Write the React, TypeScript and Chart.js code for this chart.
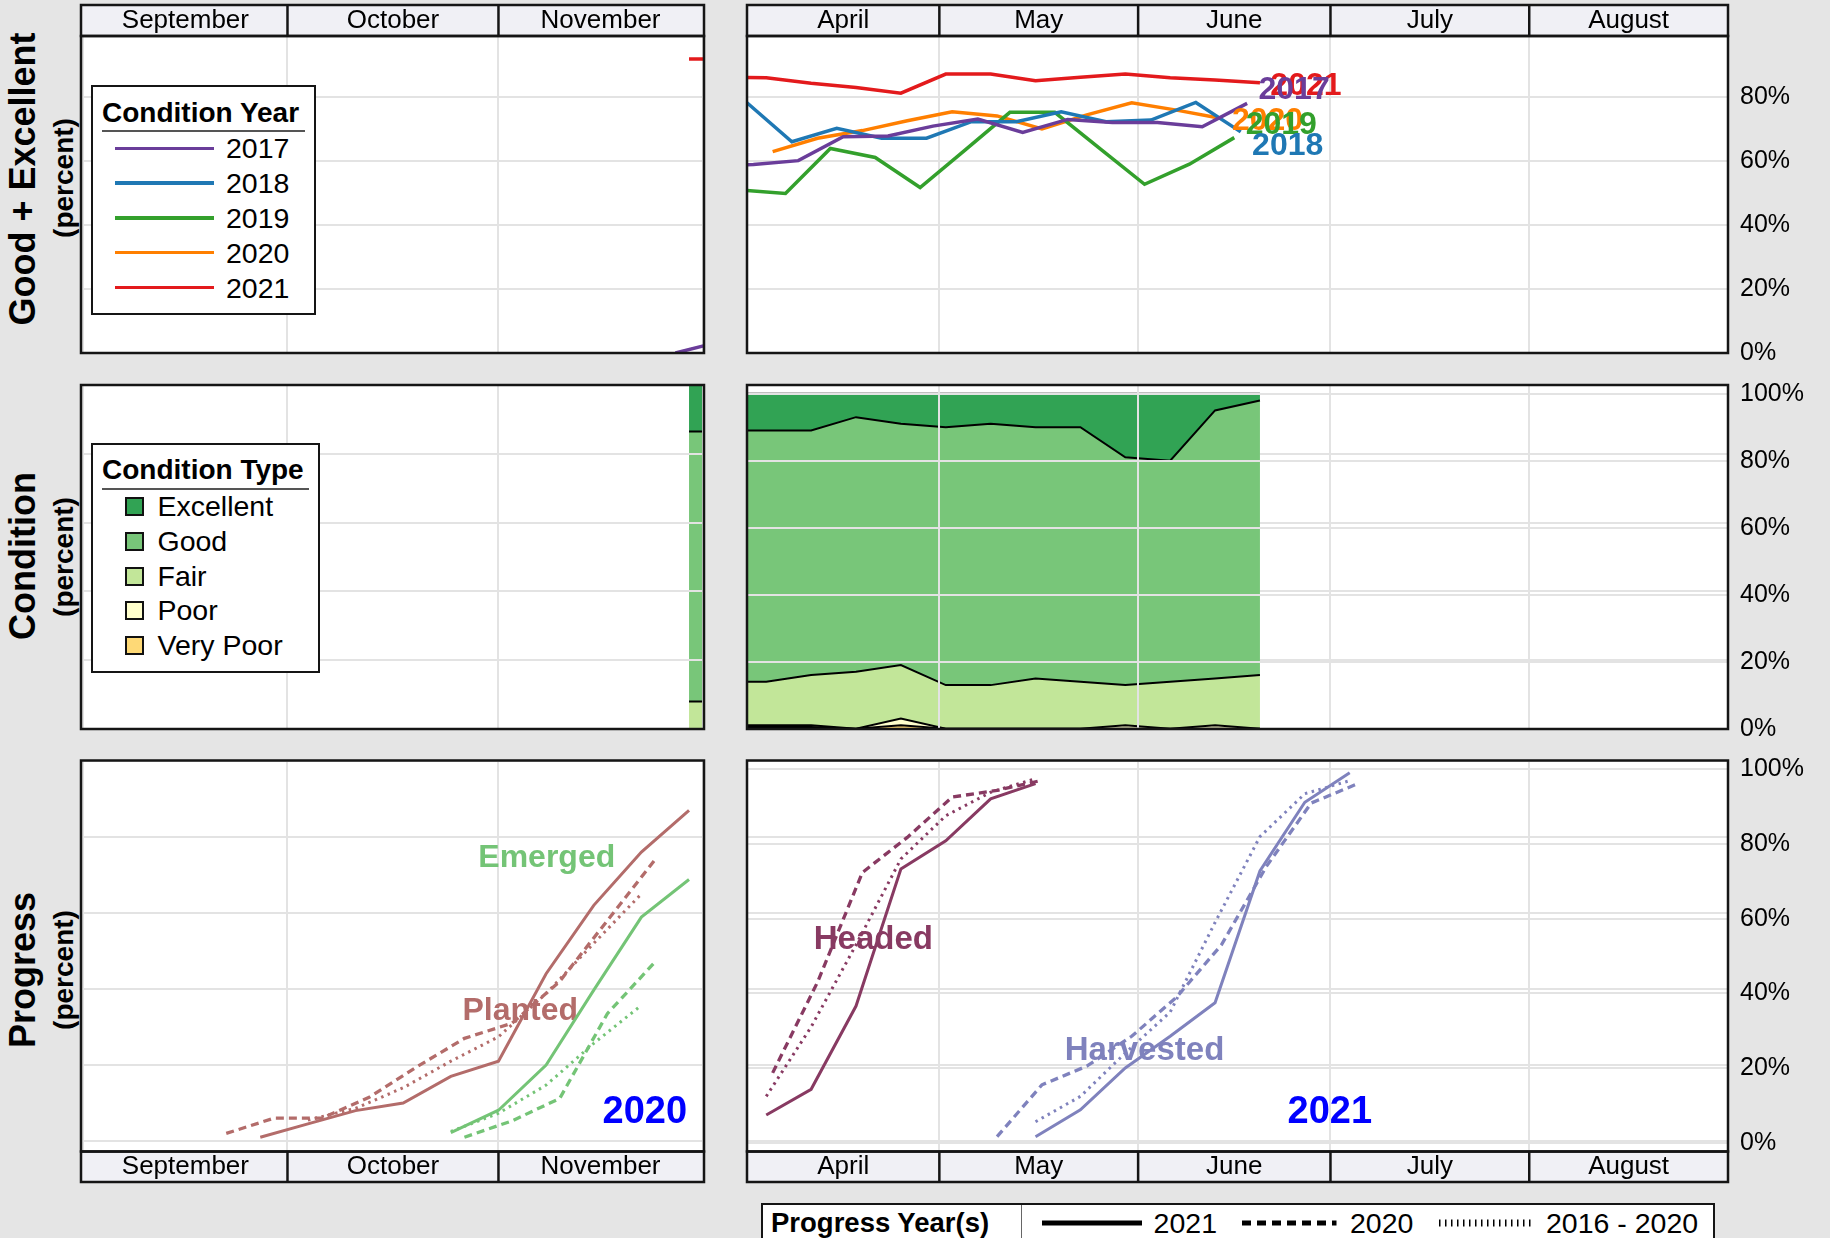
import React, { useEffect, useRef } from 'react';
import { Chart, registerables } from 'chart.js';

Chart.register(...registerables);

const FONT = '"Liberation Sans", Arial, Helvetica, sans-serif';

// ---------------- month strips ----------------
const fallMonthNames = ['September', 'October', 'November'];
const fallMonthStartDates = ['2020-09-01', '2020-10-01', '2020-11-01', '2020-12-01'];
const springMonthNames = ['April', 'May', 'June', 'July', 'August'];
const springMonthStartDates = ['2021-04-01', '2021-05-01', '2021-06-01', '2021-07-01', '2021-08-01', '2021-09-01'];

// ---------------- y tick labels ----------------
const geTicks = [0, 20, 40, 60, 80];
const pctTicks = [0, 20, 40, 60, 80, 100];

// ---------------- Good + Excellent by condition year ----------------
const conditionYears = ['2017', '2018', '2019', '2020', '2021'];

const ge2017FallDates = ['2016-11-27', '2016-12-04'];
const ge2017FallValues = [0, 3.8];
const ge2021FallDates = ['2020-11-29', '2020-12-06'];
const ge2021FallValues = [92, 92];

const ge2017Dates = ['2017-03-26', '2017-04-02', '2017-04-09', '2017-04-16', '2017-04-23', '2017-04-30', '2017-05-07', '2017-05-14', '2017-05-21', '2017-05-28', '2017-06-04', '2017-06-11', '2017-06-18'];
const ge2017Values = [58.5, 59, 60.2, 67.7, 67.9, 71, 73.2, 69, 73.1, 72.1, 72.1, 70.8, 78.1];
const ge2018Dates = ['2018-04-01', '2018-04-08', '2018-04-15', '2018-04-22', '2018-04-29', '2018-05-06', '2018-05-13', '2018-05-20', '2018-05-27', '2018-06-03', '2018-06-10', '2018-06-17'];
const ge2018Values = [78.3, 66.1, 70.3, 67.2, 67.2, 72.4, 72.4, 75.5, 72.4, 72.9, 78.4, 69.2];
const ge2019Dates = ['2019-03-31', '2019-04-07', '2019-04-14', '2019-04-21', '2019-04-28', '2019-05-05', '2019-05-12', '2019-05-19', '2019-05-26', '2019-06-02', '2019-06-09', '2019-06-16'];
const ge2019Values = [51, 49.9, 64, 61.2, 51.8, 63.5, 75.3, 75.3, 64, 52.8, 59.1, 67.4];
const ge2020Dates = ['2020-04-05', '2020-04-12', '2020-04-19', '2020-04-26', '2020-05-03', '2020-05-10', '2020-05-17', '2020-05-24', '2020-05-31', '2020-06-07', '2020-06-14'];
const ge2020Values = [63, 67.2, 69.6, 72.7, 75.5, 74.2, 70.1, 74.5, 78.3, 76, 73.4];
const ge2021Dates = ['2021-03-28', '2021-04-04', '2021-04-11', '2021-04-18', '2021-04-25', '2021-05-02', '2021-05-09', '2021-05-16', '2021-05-23', '2021-05-30', '2021-06-06', '2021-06-13', '2021-06-20'];
const ge2021Values = [86.3, 86.1, 84.4, 83.1, 81.3, 87.3, 87.3, 85.2, 86.3, 87.3, 86.1, 85.4, 84.6];

// ---------------- Condition (percent) ----------------
const conditionTypes = ['Excellent', 'Good', 'Fair', 'Poor', 'Very Poor'];
const condFallDates = ['2020-11-29', '2020-12-06'];
const condFallExcellent = [13.5, 13.5];
const condFallGood = [78.5, 78.5];
const condFallFair = [8, 8];
const condFallPoor = [0, 0];
const condFallVeryPoor = [0, 0];

const condDates = ['2021-03-28', '2021-04-04', '2021-04-11', '2021-04-18', '2021-04-25', '2021-05-02', '2021-05-09', '2021-05-16', '2021-05-23', '2021-05-30', '2021-06-06', '2021-06-13', '2021-06-20'];
const condExcellent = [11, 11, 11, 7, 9, 10, 9, 10, 10, 19, 20, 5, 2];
const condGood = [75, 75, 73, 76, 72, 77, 78, 75, 76, 68, 66, 80, 82];
const condFair = [13, 13, 15, 17, 16, 13, 13, 15, 14, 12, 14, 14, 16];
const condPoor = [0.5, 0.5, 0.5, 0, 2, 0, 0, 0, 0, 1, 0, 1, 0];
const condVeryPoor = [0.5, 0.5, 0.5, 0, 1, 0, 0, 0, 0, 0, 0, 0, 0];

// ---------------- Progress (percent) ----------------
const progressYears = ['2021', '2020', '2016 - 2020'];

const plantedDates2020 = ['2020-09-27', '2020-10-04', '2020-10-11', '2020-10-18', '2020-10-25', '2020-11-01', '2020-11-08', '2020-11-15', '2020-11-22', '2020-11-29'];
const plantedValues2020 = [1, 4.5, 8, 10, 17, 21, 44, 62, 76, 87];
const plantedDates2019 = ['2019-09-22', '2019-09-29', '2019-10-06', '2019-10-13', '2019-10-20', '2019-10-27', '2019-11-03', '2019-11-10', '2019-11-17', '2019-11-24'];
const plantedValues2019 = [2, 6, 6, 11.5, 19.5, 27, 31, 42, 58, 74];
const plantedAvgDates = ['2020-10-04', '2020-10-11', '2020-10-18', '2020-10-25', '2020-11-01', '2020-11-08', '2020-11-15', '2020-11-22'];
const plantedAvgValues = [5.5, 8.6, 14, 21, 27.4, 38.8, 52, 65];

const emergedDates2020 = ['2020-10-25', '2020-11-01', '2020-11-08', '2020-11-15', '2020-11-22', '2020-11-29'];
const emergedValues2020 = [2.2, 8.1, 20, 39.7, 58.9, 68.8];
const emergedDates2019 = ['2019-10-27', '2019-11-03', '2019-11-10', '2019-11-17', '2019-11-24'];
const emergedValues2019 = [1, 5.3, 11.2, 33.5, 47.1];
const emergedAvgDates = ['2020-10-25', '2020-11-01', '2020-11-08', '2020-11-15', '2020-11-22'];
const emergedAvgValues = [2.5, 7.3, 14.7, 25.7, 35.7];

const headedDates2021 = ['2021-04-04', '2021-04-11', '2021-04-18', '2021-04-25', '2021-05-02', '2021-05-09', '2021-05-16'];
const headedValues2021 = [7.4, 14.3, 36.6, 73.3, 80.9, 92.1, 96.2];
const headedDates2020 = ['2020-04-05', '2020-04-12', '2020-04-19', '2020-04-26', '2020-05-03', '2020-05-10', '2020-05-17'];
const headedValues2020 = [18.7, 43, 72.4, 81.8, 92.6, 94.4, 97.1];
const headedAvgDates = ['2021-04-04', '2021-04-11', '2021-04-18', '2021-04-25', '2021-05-02', '2021-05-09', '2021-05-16'];
const headedAvgValues = [12.4, 31, 53, 76, 87.6, 93.9, 97.5];

const harvestedDates2021 = ['2021-05-16', '2021-05-23', '2021-05-30', '2021-06-06', '2021-06-13', '2021-06-20', '2021-06-27', '2021-07-04'];
const harvestedValues2021 = [1.6, 8.8, 20, 28.5, 37.5, 72.8, 91.2, 99.1];
const harvestedDates2020 = ['2020-05-10', '2020-05-17', '2020-05-24', '2020-05-31', '2020-06-07', '2020-06-14', '2020-06-21', '2020-06-28', '2020-07-05'];
const harvestedValues2020 = [1.6, 15.5, 20.5, 28.5, 39, 53, 74, 91, 96];
const harvestedAvgDates = ['2021-05-16', '2021-05-23', '2021-05-30', '2021-06-06', '2021-06-13', '2021-06-20', '2021-06-27', '2021-07-04'];
const harvestedAvgValues = [5.6, 12.4, 24, 35, 59, 82, 93.5, 97];

// ---------------- styles ----------------
const yearColors: Record<string, string> = { '2017': '#6a3d9a', '2018': '#1f78b4', '2019': '#33a02c', '2020': '#ff7f00', '2021': '#e31a1c' };
const condColors: Record<string, string> = { Excellent: '#31a354', Good: '#78c679', Fair: '#c2e699', Poor: '#ffffcc', 'Very Poor': '#fed976' };
const PLANTED = '#b36c6a';
const EMERGED = '#74c476';
const HEADED = '#883a62';
const HARVESTED = '#7f82bd';
const BG = '#e5e5e5';
const GRID = '#e3e3e3';
const STRIP_BG = '#f0f0f5';
const EDGE = '#151515';

// label placement (style only) relative to a series' last point, in px
const yearLabelStyle: Record<string, { dx: number; dy: number }> = {
  '2021': { dx: 46, dy: 3.5 },
  '2017': { dx: 47, dy: -13.5 },
  '2020': { dx: 46, dy: 2.5 },
  '2019': { dx: 47, dy: -12.5 },
  '2018': { dx: 47, dy: 14.5 },
};
const yearLabelOrder = ['2021', '2017', '2020', '2019', '2018'];

// annotation placement (style only), in axis units (days, percent)
const fallAnnotations = [
  { text: 'Emerged', x: 68.1, y: 74.4, color: EMERGED, size: 32 },
  { text: 'Planted', x: 64.2, y: 34.1, color: PLANTED, size: 32 },
  { text: '2020', x: 82.5, y: 7.5, color: '#0000ff', size: 38 },
];
const springAnnotations = [
  { text: 'Headed', x: 19.7, y: 54.2, color: HEADED, size: 33 },
  { text: 'Harvested', x: 62.0, y: 24.6, color: HARVESTED, size: 33 },
  { text: '2021', x: 90.9, y: 8.0, color: '#0000ff', size: 38 },
];

// ---------------- helpers ----------------
const DAY = 86400000;
const ymd = (s: string) => s.split('-').map(Number);
const fallDay = (s: string) => {
  const [y, m, d] = ymd(s);
  return (Date.UTC(y, m - 1, d) - Date.UTC(y, 8, 1)) / DAY;
};
const springDay = (s: string) => {
  const [y, m, d] = ymd(s);
  return (Date.UTC(y, m - 1, d) - Date.UTC(y, 3, 1)) / DAY;
};
const pts = (dates: string[], values: number[], f: (s: string) => number) =>
  dates.map((d, i) => ({ x: f(d), y: values[i] }));

const SOLID: number[] = [];
const DASHED = [8, 5];
const DOTTED = [2.5, 4.5];

const lineDs = (data: any[], color: string, width: number, dash: number[] = SOLID) => ({
  data,
  borderColor: color,
  backgroundColor: color,
  borderWidth: width,
  borderDash: dash,
  pointRadius: 0,
  pointHoverRadius: 0,
  fill: false,
  tension: 0,
  clip: 0,
  borderCapStyle: 'butt',
});

const areaDs = (data: any[], color: string, first: boolean) => ({
  data,
  borderColor: '#000',
  backgroundColor: color,
  borderWidth: 2,
  pointRadius: 0,
  pointHoverRadius: 0,
  fill: first ? 'origin' : '-1',
  tension: 0,
  clip: 0,
});

const conditionStack = (
  dates: string[],
  f: (s: string) => number,
  vp: number[], poor: number[], fair: number[], good: number[], exc: number[]
) => [
  areaDs(pts(dates, vp, f), condColors['Very Poor'], true),
  areaDs(pts(dates, poor, f), condColors.Poor, false),
  areaDs(pts(dates, fair, f), condColors.Fair, false),
  areaDs(pts(dates, good, f), condColors.Good, false),
  areaDs(pts(dates, exc, f), condColors.Excellent, false),
];

// ---------------- geometry ----------------
const SIDES: any = {
  fall: {
    left: 76, width: 634, padL: 5, padR: 6, yPos: 'left', yWidth: 0, showY: false,
    xRange: [-0.34, 91.2], names: fallMonthNames, starts: fallMonthStartDates.map(fallDay),
  },
  spring: {
    left: 742, width: 1088, padL: 5, padR: 0, yPos: 'right', yWidth: 102, showY: true,
    xRange: [0, 153], names: springMonthNames, starts: springMonthStartDates.map(springDay),
  },
};
const ROWS: any = {
  top: { top: 0, height: 370, padT: 5, padB: 17, strip: 'top', stripH: 31 },
  mid: { top: 370, height: 375, padT: 15, padB: 16, strip: null, stripH: 0 },
  bottom: { top: 745, height: 450, padT: 15.5, padB: 13, strip: 'bottom', stripH: 30.5 },
};

const zeroPad = (sc: any) => {
  sc.paddingTop = 0; sc.paddingBottom = 0; sc.paddingLeft = 0; sc.paddingRight = 0;
};

const panelDeco = (starts: number[]) => ({
  id: 'panelDeco',
  beforeDraw(chart: any) {
    const { ctx, chartArea: a } = chart;
    ctx.save();
    ctx.fillStyle = '#ffffff';
    ctx.fillRect(a.left, a.top, a.right - a.left, a.bottom - a.top);
    const m = chart.scales.xm;
    if (m) {
      ctx.fillStyle = STRIP_BG;
      ctx.fillRect(a.left, m.top, a.right - a.left, m.bottom - m.top);
    }
    ctx.restore();
  },
  afterDraw(chart: any) {
    const { ctx, chartArea: a } = chart;
    ctx.save();
    ctx.strokeStyle = EDGE;
    ctx.lineWidth = 2.5;
    ctx.strokeRect(a.left, a.top, a.right - a.left, a.bottom - a.top);
    const m = chart.scales.xm;
    if (m) {
      ctx.strokeRect(a.left, m.top, a.right - a.left, m.bottom - m.top);
      const xs = chart.scales.x;
      starts.slice(1, -1).forEach((v) => {
        const px = xs.getPixelForValue(v);
        ctx.beginPath();
        ctx.moveTo(px, m.top);
        ctx.lineTo(px, m.bottom);
        ctx.stroke();
      });
    }
    ctx.restore();
  },
});

const annotationPlugin = (items: any[]) => ({
  id: 'annotations',
  beforeDatasetsDraw(chart: any) {
    const { ctx } = chart;
    const xs = chart.scales.x;
    const ys = chart.scales.y;
    ctx.save();
    ctx.textAlign = 'center';
    ctx.textBaseline = 'middle';
    items.forEach((it) => {
      ctx.font = `bold ${it.size}px ${FONT}`;
      ctx.fillStyle = it.color;
      ctx.fillText(it.text, xs.getPixelForValue(it.x), ys.getPixelForValue(it.y));
    });
    ctx.restore();
  },
});

const yearLabelPlugin = {
  id: 'yearLabels',
  afterDatasetsDraw(chart: any) {
    const { ctx } = chart;
    ctx.save();
    ctx.textAlign = 'center';
    ctx.textBaseline = 'middle';
    ctx.font = `bold 32px ${FONT}`;
    yearLabelOrder.forEach((yr) => {
      const idx = conditionYears.indexOf(yr);
      const meta = chart.getDatasetMeta(idx);
      const last = meta.data[meta.data.length - 1];
      if (!last) return;
      const st = yearLabelStyle[yr];
      ctx.fillStyle = yearColors[yr];
      ctx.fillText(yr, last.x + st.dx, last.y + st.dy);
    });
    ctx.restore();
  },
};

type PanelOpts = {
  side: 'fall' | 'spring';
  row: 'top' | 'mid' | 'bottom';
  datasets: any[];
  yRange: [number, number];
  yTicks: number[];
  echo?: [number, number];
  gridOnTop?: boolean;
  stacked?: boolean;
  plugins?: any[];
};

function buildPanel(o: PanelOpts) {
  const s = SIDES[o.side];
  const r = ROWS[o.row];
  const gz = o.gridOnTop ? 1 : 0;
  const scales: any = {
    x: {
      type: 'linear', position: 'bottom', min: s.xRange[0], max: s.xRange[1],
      grid: { color: GRID, lineWidth: 2, drawTicks: false, z: gz },
      border: { display: false },
      ticks: { display: false },
      afterBuildTicks: (sc: any) => { sc.ticks = s.starts.map((v: number) => ({ value: v })); },
      afterFit: (sc: any) => { sc.height = 0; zeroPad(sc); },
    },
    y: {
      type: 'linear', position: s.yPos, min: o.yRange[0], max: o.yRange[1], stacked: !!o.stacked,
      grid: { color: GRID, lineWidth: 2, drawTicks: false, z: gz },
      border: { display: false },
      ticks: {
        display: s.showY, padding: 12, color: '#000',
        font: { family: FONT, size: 25 },
        callback: (v: any) => `${v}%`,
      },
      afterBuildTicks: (sc: any) => { sc.ticks = o.yTicks.map((v) => ({ value: v })); },
      afterFit: (sc: any) => { sc.width = s.yWidth; zeroPad(sc); },
    },
  };
  if (o.echo) {
    scales.yg = {
      type: 'linear', axis: 'y', position: 'left', min: o.echo[0], max: o.echo[1],
      grid: { color: GRID, lineWidth: 2, drawTicks: false, z: 0 },
      border: { display: false },
      ticks: { display: false },
      afterBuildTicks: (sc: any) => { sc.ticks = pctTicks.map((v) => ({ value: v })); },
      afterFit: (sc: any) => { sc.width = 0; zeroPad(sc); },
    };
  }
  if (r.strip) {
    const mids = s.names.map((_: string, i: number) => (s.starts[i] + s.starts[i + 1]) / 2);
    scales.xm = {
      type: 'linear', axis: 'x', position: r.strip, min: s.xRange[0], max: s.xRange[1],
      grid: { display: false, drawTicks: false },
      border: { display: false },
      ticks: {
        display: true, padding: 0, color: '#000', autoSkip: false, maxRotation: 0, minRotation: 0,
        font: { family: FONT, size: 26, lineHeight: 1.2 },
        callback: (_v: any, i: number) => s.names[i],
      },
      afterBuildTicks: (sc: any) => { sc.ticks = mids.map((v: number) => ({ value: v })); },
      afterFit: (sc: any) => { sc.height = r.stripH; zeroPad(sc); },
    };
  }
  const config = () => ({
    type: 'line',
    data: { datasets: o.datasets },
    options: {
      responsive: false,
      animation: false,
      events: [],
      layout: { padding: { left: s.padL, right: s.padR, top: r.padT, bottom: r.padB } },
      plugins: { legend: { display: false }, tooltip: { enabled: false } },
      scales,
    },
    plugins: [panelDeco(s.starts), ...(o.plugins || [])],
  });
  return { left: s.left, top: r.top, width: s.width, height: r.height, config };
}

function ChartPanel(props: { left: number; top: number; width: number; height: number; config: () => any }) {
  const ref = useRef<HTMLCanvasElement>(null);
  useEffect(() => {
    const chart = new Chart(ref.current as HTMLCanvasElement, props.config());
    return () => chart.destroy();
  }, []);
  return (
    <canvas
      ref={ref}
      width={props.width}
      height={props.height}
      style={{ position: 'absolute', left: props.left, top: props.top, width: props.width, height: props.height }}
    />
  );
}

function VTitle({ cx, cy, text, size }: { cx: number; cy: number; text: string; size: number }) {
  return (
    <div style={{ position: 'absolute', left: cx, top: cy, width: 0, height: 0 }}>
      <div
        style={{
          position: 'absolute', left: 0, top: 0, whiteSpace: 'nowrap', fontWeight: 'bold',
          fontSize: size, lineHeight: 1, transform: 'translate(-50%, -50%) rotate(-90deg)', color: '#000',
        }}
      >
        {text}
      </div>
    </div>
  );
}

const geSeries: Record<string, [string[], number[]]> = {
  '2017': [ge2017Dates, ge2017Values],
  '2018': [ge2018Dates, ge2018Values],
  '2019': [ge2019Dates, ge2019Values],
  '2020': [ge2020Dates, ge2020Values],
  '2021': [ge2021Dates, ge2021Values],
};

export default function App() {
  const panels = [
    buildPanel({
      side: 'fall', row: 'top', yRange: [0, 99.2], yTicks: geTicks,
      datasets: [
        lineDs(pts(ge2017FallDates, ge2017FallValues, fallDay), yearColors['2017'], 3.5),
        lineDs(pts(ge2021FallDates, ge2021FallValues, fallDay), yearColors['2021'], 3.5),
      ],
    }),
    buildPanel({
      side: 'spring', row: 'top', yRange: [0, 99.2], yTicks: geTicks,
      datasets: conditionYears.map((yr) => lineDs(pts(geSeries[yr][0], geSeries[yr][1], springDay), yearColors[yr], 3.5)),
      plugins: [yearLabelPlugin],
    }),
    buildPanel({
      side: 'fall', row: 'mid', yRange: [0, 100], yTicks: pctTicks, gridOnTop: true, stacked: true,
      datasets: conditionStack(condFallDates, fallDay, condFallVeryPoor, condFallPoor, condFallFair, condFallGood, condFallExcellent),
    }),
    buildPanel({
      side: 'spring', row: 'mid', yRange: [-0.1, 102.6], yTicks: pctTicks, gridOnTop: true, stacked: true, echo: [0, 100],
      datasets: conditionStack(condDates, springDay, condVeryPoor, condPoor, condFair, condGood, condExcellent),
    }),
    buildPanel({
      side: 'fall', row: 'bottom', yRange: [-2.76, 100.1], yTicks: pctTicks,
      datasets: [
        lineDs(pts(plantedDates2020, plantedValues2020, fallDay), PLANTED, 3),
        lineDs(pts(plantedDates2019, plantedValues2019, fallDay), PLANTED, 3.3, DASHED),
        lineDs(pts(plantedAvgDates, plantedAvgValues, fallDay), PLANTED, 3, DOTTED),
        lineDs(pts(emergedDates2020, emergedValues2020, fallDay), EMERGED, 3),
        lineDs(pts(emergedDates2019, emergedValues2019, fallDay), EMERGED, 3.3, DASHED),
        lineDs(pts(emergedAvgDates, emergedAvgValues, fallDay), EMERGED, 3, DOTTED),
      ],
      plugins: [annotationPlugin(fallAnnotations)],
    }),
    buildPanel({
      side: 'spring', row: 'bottom', yRange: [-2.37, 102.4], yTicks: pctTicks, echo: [-2.76, 100.1],
      datasets: [
        lineDs(pts(headedDates2021, headedValues2021, springDay), HEADED, 3),
        lineDs(pts(headedDates2020, headedValues2020, springDay), HEADED, 3.3, DASHED),
        lineDs(pts(headedAvgDates, headedAvgValues, springDay), HEADED, 3, DOTTED),
        lineDs(pts(harvestedDates2021, harvestedValues2021, springDay), HARVESTED, 3),
        lineDs(pts(harvestedDates2020, harvestedValues2020, springDay), HARVESTED, 3.3, DASHED),
        lineDs(pts(harvestedAvgDates, harvestedAvgValues, springDay), HARVESTED, 3, DOTTED),
      ],
      plugins: [annotationPlugin(springAnnotations)],
    }),
  ];

  const entryStep = 34.8;

  return (
    <div
      style={{
        position: 'fixed', left: 0, top: 0, width: 1830, height: 1238, overflow: 'hidden',
        background: BG, fontFamily: FONT, color: '#000',
      }}
    >
      <VTitle cx={23} cy={179} text="Good + Excellent" size={36} />
      <VTitle cx={64} cy={178} text="(percent)" size={28} />
      <VTitle cx={23} cy={556} text="Condition" size={36} />
      <VTitle cx={64} cy={557} text="(percent)" size={28} />
      <VTitle cx={23} cy={970} text="Progress" size={36} />
      <VTitle cx={64} cy={970} text="(percent)" size={28} />

      {panels.map((p, i) => (
        <ChartPanel key={i} {...p} />
      ))}

      {/* Condition Year legend */}
      <div
        style={{
          position: 'absolute', left: 91, top: 85, width: 225, height: 230, boxSizing: 'border-box',
          border: `2px solid ${EDGE}`, background: '#fff',
        }}
      >
        <div style={{ position: 'absolute', left: 9, top: 8, fontWeight: 'bold', fontSize: 28, lineHeight: '36px', whiteSpace: 'nowrap' }}>
          Condition Year
        </div>
        <div style={{ position: 'absolute', left: 9, top: 43, width: 203, height: 1.5, background: '#555' }} />
        {conditionYears.map((yr, i) => {
          const cy = 61.3 + entryStep * i;
          return (
            <React.Fragment key={yr}>
              <div style={{ position: 'absolute', left: 22, top: cy - 1.75, width: 99, height: 3.5, background: yearColors[yr] }} />
              <div style={{ position: 'absolute', left: 133, top: cy - 17, fontSize: 28.5, lineHeight: '34px' }}>{yr}</div>
            </React.Fragment>
          );
        })}
      </div>

      {/* Condition Type legend */}
      <div
        style={{
          position: 'absolute', left: 91, top: 443, width: 229, height: 230, boxSizing: 'border-box',
          border: `2px solid ${EDGE}`, background: '#fff',
        }}
      >
        <div style={{ position: 'absolute', left: 9, top: 7, fontWeight: 'bold', fontSize: 28, lineHeight: '36px', whiteSpace: 'nowrap' }}>
          Condition Type
        </div>
        <div style={{ position: 'absolute', left: 9, top: 43, width: 207, height: 1.5, background: '#555' }} />
        {conditionTypes.map((t, i) => {
          const cy = 61 + entryStep * i;
          return (
            <React.Fragment key={t}>
              <div
                style={{
                  position: 'absolute', left: 32, top: cy - 9, width: 19, height: 19, boxSizing: 'border-box',
                  border: '2px solid #111', background: condColors[t],
                }}
              />
              <div style={{ position: 'absolute', left: 64.5, top: cy - 17, fontSize: 28.5, lineHeight: '34px', whiteSpace: 'nowrap' }}>{t}</div>
            </React.Fragment>
          );
        })}
      </div>

      {/* Progress Year(s) legend */}
      <div
        style={{
          position: 'absolute', left: 761, top: 1203, width: 954, height: 60, boxSizing: 'border-box',
          border: `2px solid ${EDGE}`, background: '#fff',
        }}
      >
        <div style={{ position: 'absolute', left: 8, top: 1, fontWeight: 'bold', fontSize: 27.5, lineHeight: '34px', whiteSpace: 'nowrap' }}>
          Progress Year(s)
        </div>
        <div style={{ position: 'absolute', left: 257.5, top: 0, width: 1.5, height: 60, background: '#666' }} />
        <svg width={950} height={50} style={{ position: 'absolute', left: 0, top: 0 }}>
          <line x1={279} y1={18} x2={379} y2={18} stroke="#000" strokeWidth={5} />
          <line x1={479} y1={18} x2={573.5} y2={18} stroke="#000" strokeWidth={5} strokeDasharray="9 6" />
          <line x1={676} y1={18} x2={769.5} y2={18} stroke="#000" strokeWidth={7} strokeDasharray="1.5 4.5" />
        </svg>
        {progressYears.map((t, i) => (
          <div
            key={t}
            style={{ position: 'absolute', left: [390.6, 587, 783][i], top: 1, fontSize: 28.5, lineHeight: '34px', whiteSpace: 'nowrap' }}
          >
            {t}
          </div>
        ))}
      </div>
    </div>
  );
}
